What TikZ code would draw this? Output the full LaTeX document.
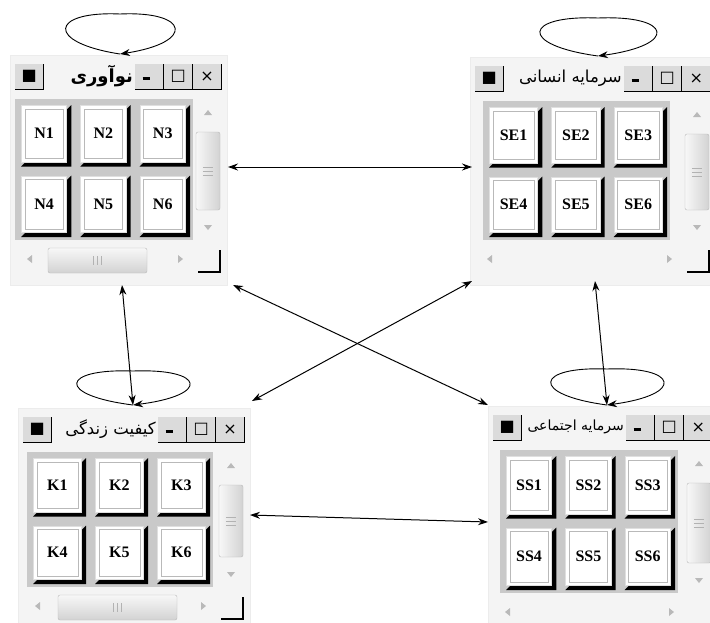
\documentclass[tikz,border=0pt]{standalone}
\usepackage{fontspec}
\usetikzlibrary{arrows.meta,calc}
\newfontfamily\fafont[Script=Arabic]{DejaVu Sans}
\newfontfamily\symf{DejaVu Sans}
\newfontfamily\lserif{Liberation Serif}
\TeXXeTstate=1

\tikzset{
 winbg/.style={fill=gray!9, draw=gray!15, inner sep=0pt},
 tbtn/.style={fill=gray!28, inner sep=0pt, minimum width=28pt, minimum height=25pt, anchor=north west, font=\symf\fontsize{16}{16}\selectfont},
 ttl/.style={anchor=east, inner sep=1pt, font=\fafont\fontsize{16.5}{18}\selectfont},
 btnface/.style={fill=white, draw=gray!25, line width=0.8pt, inner sep=0pt,
   font=\lserif\bfseries\fontsize{16}{16}\selectfont,
   path picture={\draw[gray!55,line width=0.6pt] ([shift={(3.5pt,-3.5pt)}]path picture bounding box.north west) rectangle ([shift={(-3.5pt,3.5pt)}]path picture bounding box.south east);}},
 panel/.style={fill=gray!42},
 dbl/.style={<->, >={Stealth[length=10pt,width=7pt]}, line width=1pt},
 loopar/.style={->, >={Stealth[length=10pt,width=7pt]}, line width=0.9pt},
 tri/.style={fill=gray!55},
 vthumb/.style={draw=gray!55, rounded corners=2pt, left color=gray!6, right color=gray!35},
 hthumb/.style={draw=gray!55, rounded corners=2pt, top color=gray!6, bottom color=gray!35},
 edgeln/.style={black, line width=1.3pt},
}

% #1 name #2 x0 #3 y0 #4 W #5 gx1 #6 gx2 #7 gy2 #8 title #9 prefix
\newcommand\guiwin[9]{%
 \pgfmathsetmacro\gwR{#2+#4}%
 \pgfmathsetmacro\gwT{#3+37}%
 \pgfmathsetmacro\gwV{\gwR-14}%
 \pgfmathsetmacro\gwM{(#3+70+#7-30)/2}%
 \pgfmathsetmacro\gwH{#7+19}%
 \node[winbg, anchor=north west, minimum width={(#4+10)*1pt}, minimum height={(#7-#3+52)*1pt}] (#1) at (#2-5,#3-7) {};
 \node[ttl] (#1-title) at (\gwR-88,#3+14) {#8};
 \node[tbtn] (#1-sys) at (#2,#3+2) {■};
 \node[tbtn] (#1-min) at (\gwR-87,#3+2) {\raisebox{-6pt}{\rule{7pt}{2.4pt}}\hspace*{6pt}};
 \node[tbtn] (#1-max) at (\gwR-58,#3+2) {□};
 \node[tbtn] (#1-cls) at (\gwR-29,#3+2) {×};
 \foreach \bb in {sys,min,max,cls}{\draw[edgeln] (#1-\bb.north east) -- (#1-\bb.south east) -- (#1-\bb.south west);}
 \fill[panel] (#5,\gwT) rectangle (#6,#7);
 \foreach \i in {0,1,2}{\foreach \j in {0,1}{%
   \pgfmathsetmacro\bw{(#6-#5)/3}%
   \pgfmathsetmacro\bh{(#7-\gwT)/2}%
   \pgfmathsetmacro\bx{#5+\i*\bw}%
   \pgfmathsetmacro\by{\gwT+\j*\bh}%
   \pgfmathtruncatemacro\bn{\j*3+\i+1}%
   \fill[black] (\bx+6,\by+\bh-3) -- (\bx+\bw-3,\by+\bh-3) -- (\bx+\bw-3,\by+6) -- (\bx+\bw-8,\by+11) -- (\bx+\bw-8,\by+\bh-8) -- (\bx+11,\by+\bh-8) -- cycle;
   \node[btnface, anchor=north west, minimum width={(\bw-14)*1pt}, minimum height={(\bh-14)*1pt}] (#9\bn) at (\bx+6,\by+6) {#9\bn};
 }}
 \fill[tri] (\gwV-4,#3+53) -- (\gwV+4,#3+53) -- (\gwV,#3+48) -- cycle;
 \draw[vthumb] (\gwR-26,#3+70) rectangle (\gwR-2,#7-30);
 \foreach \k in {-4,0,4}{\draw[gray!60,line width=0.8pt] (\gwV-5,\gwM+\k) -- (\gwV+5,\gwM+\k);}
 \fill[tri] (\gwV-4,#7-15) -- (\gwV+4,#7-15) -- (\gwV,#7-10) -- cycle;
 \fill[tri] (#2+17,\gwH-4) -- (#2+17,\gwH+4) -- (#2+12,\gwH) -- cycle;
 \fill[tri] (\gwR-44,\gwH-4) -- (\gwR-44,\gwH+4) -- (\gwR-39,\gwH) -- cycle;
 \draw[edgeln] (\gwR-24,#7+32) -- (\gwR-2,#7+32) -- (\gwR-2,#7+10);
}
% horizontal thumb: #1 x1 #2 x2 #3 gy2
\newcommand\hbarthumb[3]{%
 \draw[hthumb] (#1,#3+8) rectangle (#2,#3+33);
 \pgfmathsetmacro\gwC{(#1+#2)/2}%
 \foreach \k in {-4,0,4}{\draw[gray!60,line width=0.8pt] (\gwC+\k,#3+16) -- (\gwC+\k,#3+25);}
}
% self loop: #1 coordinate #2 half width #3 height
\newcommand\selfloop[3]{%
 \draw[loopar] (#1) .. controls ($(#1)+(-1.3*#2,-0.29*#3)$) and ($(#1)+(-1.2*#2,-1.08*#3)$) .. ($(#1)+(0,-#3)$)
   .. controls ($(#1)+(1.2*#2,-1.08*#3)$) and ($(#1)+(1.3*#2,-0.29*#3)$) .. (#1);
}

\begin{document}
\begin{tikzpicture}[x=1pt,y=-1pt]
\useasboundingbox (0,0) rectangle (710,622);
\fill[white] (0,0) rectangle (710,622);

\guiwin{W1}{15}{62}{207}{15}{193}{240}{\fontsize{18}{20}\selectfont\bfseries\beginR نوآوری\endR}{N}
\hbarthumb{48}{147}{240}
\guiwin{W2}{475}{64}{236}{483}{670}{240}{\beginR سرمایه انسانی\endR}{SE}
\guiwin{W3}{23}{415}{222}{27}{213}{587}{\beginR کیفیت زندگی\endR}{K}
\hbarthumb{58}{177}{587}
\guiwin{W4}{493}{413}{220}{500}{678}{593}{\fontsize{14}{16}\selectfont\beginR سرمایه اجتماعی\endR}{SS}

\coordinate (L1) at (120,54);
\coordinate (L2) at (598,56);
\coordinate (L3) at (133,405);
\coordinate (L4) at (607,405);
\coordinate (a1) at (228,167);
\coordinate (a2) at (472,167);
\coordinate (d1) at (233,285);
\coordinate (d2) at (488,405);
\coordinate (d3) at (472,281);
\coordinate (d4) at (252,401);
\coordinate (v1) at (122,285);
\coordinate (v2) at (595,281);
\coordinate (b1) at (250,515);
\coordinate (b2) at (488,522);

\selfloop{L1}{58}{40}
\selfloop{L2}{62}{38}
\selfloop{L3}{60}{34}
\selfloop{L4}{60}{36}

\draw[dbl] (a1) -- (a2);
\draw[dbl] (d1) -- (d2);
\draw[dbl] (d3) -- (d4);
\draw[dbl] (v1) -- (L3);
\draw[dbl] (v2) -- (L4);
\draw[dbl] (b1) -- (b2);
\end{tikzpicture}
\end{document}
